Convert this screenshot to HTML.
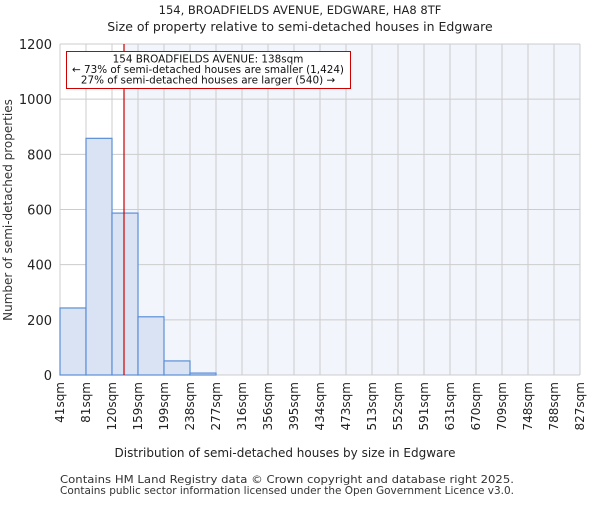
<!DOCTYPE html>
<html><head><meta charset="utf-8"><style>
body{margin:0;background:#fff;}
svg{font-family:"DejaVu Sans","Liberation Sans",sans-serif;}
</style></head><body>
<svg width="600" height="500" xmlns="http://www.w3.org/2000/svg">
<text x="300" y="14" text-anchor="middle" font-size="11.5" fill="#222">154, BROADFIELDS AVENUE, EDGWARE, HA8 8TF</text>
<text x="300" y="31" text-anchor="middle" font-size="12.5" fill="#222">Size of property relative to semi-detached houses in Edgware</text>
<g id="plot"></g>
<text x="285" y="457" text-anchor="middle" font-size="12" fill="#222">Distribution of semi-detached houses by size in Edgware</text>
<text transform="translate(12,210) rotate(-90)" text-anchor="middle" font-size="12" fill="#333">Number of semi-detached properties</text>
<text x="60" y="483" font-size="11" textLength="454" lengthAdjust="spacingAndGlyphs" fill="#333">Contains HM Land Registry data © Crown copyright and database right 2025.</text>
<text x="60" y="494" font-size="11" textLength="454" lengthAdjust="spacingAndGlyphs" fill="#333">Contains public sector information licensed under the Open Government Licence v3.0.</text>
</svg>
<script>
const binLabels=["41sqm","81sqm","120sqm","159sqm","199sqm","238sqm","277sqm","316sqm","356sqm","395sqm","434sqm","473sqm","513sqm","552sqm","591sqm","631sqm","670sqm","709sqm","748sqm","788sqm","827sqm"];
const binEdges=[41,81,120,159,199,238,277,316,356,395,434,473,513,552,591,631,670,709,748,788,827];
const counts=[243,858,587,211,51,7,0,0,0,0,0,0,0,0,0,0,0,0,0,0];
const yTicks=[0,200,400,600,800,1000,1200];
const markerValue=138;
const NS="http://www.w3.org/2000/svg";
const L=60,R=580,T=44,B=375,YMAX=1200;
const nb=counts.length;
function xIdx(i){return L+(R-L)*i/nb;}
function xVal(v){let i=0;while(i<binEdges.length-2&&v>binEdges[i+1])i++;return xIdx(i)+(xIdx(i+1)-xIdx(i))*(v-binEdges[i])/(binEdges[i+1]-binEdges[i]);}
function y(v){return B-(B-T)*v/YMAX;}
const g=document.getElementById('plot');
function mk(t,a){const e=document.createElementNS(NS,t);for(const k in a)e.setAttribute(k,a[k]);g.appendChild(e);return e;}
const mx=xVal(markerValue);
let e=mk('rect',{x:L,y:T,width:mx-L,height:B-T,fill:'#ffffff'});


e=mk('rect',{x:mx,y:T,width:R-mx,height:B-T,fill:'#f2f5fc'});


yTicks.forEach(t=>{
 let l=mk('line',{x1:L,x2:R,y1:y(t),y2:y(t),stroke:'#cccccc','stroke-width':1});
 
 
 let tx=mk('text',{x:L-8,y:y(t)+5,'text-anchor':'end','font-size':'13',fill:'#222'});
 tx.textContent=t;
 
 
});
binLabels.forEach((lab,i)=>{
 let l=mk('line',{x1:xIdx(i),x2:xIdx(i),y1:T,y2:B,stroke:'#cccccc','stroke-width':1});
 
 
 let tx=mk('text',{transform:`translate(${xIdx(i)+4},${B+7}) rotate(-90)`,'text-anchor':'end','font-size':'12',fill:'#222'});
 tx.textContent=lab;
 
 
});
counts.forEach((c,i)=>{
 if(c<=0)return;
 let r=mk('rect',{x:xIdx(i),y:y(c),width:xIdx(i+1)-xIdx(i),height:B-y(c),fill:'#dae3f3',stroke:'#5b8fd6','stroke-width':1.2});
 
 
});
e=mk('line',{x1:mx,x2:mx,y1:T,y2:B,stroke:'#cc0000','stroke-width':1.2});


e=mk('rect',{x:66.5,y:51.5,width:284,height:37,fill:'#fff',stroke:'#cc0000','stroke-width':1});


["154 BROADFIELDS AVENUE: 138sqm","← 73% of semi-detached houses are smaller (1,424)","27% of semi-detached houses are larger (540) →"].forEach((s,i)=>{
 let tx=mk('text',{x:208,y:62.5+i*10.5,'text-anchor':'middle','font-size':'10.4',fill:'#111'});
 tx.textContent=s;
 
 
});
</script>
</body></html>
